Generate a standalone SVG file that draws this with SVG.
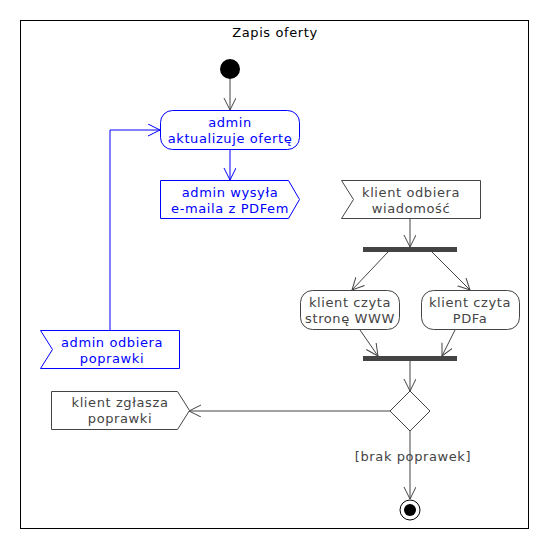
<svg xmlns="http://www.w3.org/2000/svg" width="550" height="550" viewBox="0 0 550 550">
<style>
text{font-family:"DejaVu Sans","Liberation Sans",sans-serif;font-size:13px;text-anchor:middle;letter-spacing:0.6px}
.g{fill:#fff;stroke:#444;stroke-width:1}
.gt{fill:#444}
.b{fill:#fff;stroke:#00f;stroke-width:1}
.bt{fill:#00f}
.ln{fill:none;stroke:#444;stroke-width:1}
.lb{fill:none;stroke:#00f;stroke-width:1}
.bar{fill:#444;stroke:none}
</style>
<defs>
<marker id="ag" markerWidth="16" markerHeight="16" refX="12" refY="6" orient="auto" markerUnits="userSpaceOnUse"><path d="M0,0 L12,6 L0,12" fill="none" stroke="#444" stroke-width="1"/></marker>
<marker id="ab" markerWidth="16" markerHeight="16" refX="12" refY="6" orient="auto" markerUnits="userSpaceOnUse"><path d="M0,0 L12,6 L0,12" fill="none" stroke="#00f" stroke-width="1"/></marker>
</defs>
<rect x="20.5" y="20.5" width="508" height="508" fill="#fff" stroke="#000" stroke-width="1"/>
<text x="275" y="37" fill="#000">Zapis oferty</text>
<g id="connectors">
<path class="ln" d="M230,79 L230,110" marker-end="url(#ag)"/>
<path class="lb" d="M230,149 L230,180" marker-end="url(#ab)"/>
<path class="ln" d="M410,219 L410,247" marker-end="url(#ag)"/>
<path class="ln" d="M388,252 L352,290" marker-end="url(#ag)"/>
<path class="ln" d="M432,252 L470,290" marker-end="url(#ag)"/>
<path class="ln" d="M360,330 L378,356" marker-end="url(#ag)"/>
<path class="ln" d="M455,330 L442,356" marker-end="url(#ag)"/>
<path class="ln" d="M410,361 L410,391" marker-end="url(#ag)"/>
<path class="ln" d="M390,411 L189,411" marker-end="url(#ag)"/>
<path class="ln" d="M410,431 L410,499" marker-end="url(#ag)"/>
<text class="gt" x="413" y="461">[brak poprawek]</text>
<path class="lb" d="M110,330 L110,130 L160,130" marker-end="url(#ab)"/>
</g>
<g id="start"><circle cx="230" cy="69" r="10" fill="#000"/></g>
<g id="aktualizuje">
<rect class="b" x="160.5" y="110.5" width="139" height="39" rx="12"/>
<text class="bt" x="230" y="127">admin</text>
<text class="bt" x="230" y="143">aktualizuje ofertę</text>
</g>
<g id="wysyla">
<polygon class="b" points="160.5,180.5 288.5,180.5 299.5,199.5 288.5,218.5 160.5,218.5"/>
<text class="bt" x="230" y="197">admin wysyła</text>
<text class="bt" x="230" y="213">e-maila z PDFem</text>
</g>
<g id="klient_odbiera">
<polygon class="g" points="341.5,180.5 480.5,180.5 480.5,218.5 341.5,218.5 353.5,199.5"/>
<text class="gt" x="411" y="197">klient odbiera</text>
<text class="gt" x="411" y="213">wiadomość</text>
</g>
<g id="fork"><rect class="bar" x="363" y="247" width="94" height="5"/></g>
<g id="czyta_www">
<rect class="g" x="300.5" y="290.5" width="99" height="39" rx="12"/>
<text class="gt" x="350" y="307">klient czyta</text>
<text class="gt" x="350" y="323">stronę WWW</text>
</g>
<g id="czyta_pdf">
<rect class="g" x="421.5" y="290.5" width="98" height="39" rx="12"/>
<text class="gt" x="470" y="307">klient czyta</text>
<text class="gt" x="470" y="323">PDFa</text>
</g>
<g id="join"><rect class="bar" x="363" y="356" width="94" height="5"/></g>
<g id="decision"><polygon class="g" points="410,391 430,411 410,431 390,411"/></g>
<g id="zglasza">
<polygon class="g" points="51.5,391.5 177.5,391.5 189.5,410.5 177.5,429.5 51.5,429.5"/>
<text class="gt" x="120" y="407">klient zgłasza</text>
<text class="gt" x="120" y="423">poprawki</text>
</g>
<g id="admin_odbiera">
<polygon class="b" points="40.5,330.5 179.5,330.5 179.5,368.5 40.5,368.5 52.5,349.5"/>
<text class="bt" x="112" y="347">admin odbiera</text>
<text class="bt" x="112" y="363">poprawki</text>
</g>
<g id="end">
<circle cx="410" cy="510" r="10" fill="#fff" stroke="#000" stroke-width="1"/>
<circle cx="410" cy="510" r="6" fill="#000"/>
</g>
</svg>
